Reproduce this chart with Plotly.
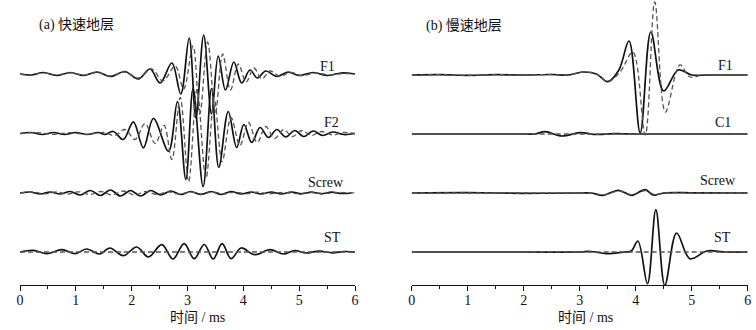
import plotly.graph_objects as go

# ---------------- data (time in ms, amplitude in arbitrary units) ----------------
# Panel (a) fast formation
a_f1_solid_t = [0, 0.2, 0.42, 0.66, 0.9, 1.14, 1.38, 1.62, 1.88, 2.12, 2.33, 2.51, 2.72, 2.88, 3.03, 3.15, 3.29, 3.43,
                3.55, 3.68, 3.83, 3.97, 4.12, 4.25, 4.4, 4.6, 4.8, 5.0, 5.25, 5.5, 5.75, 6.0]
a_f1_solid_v = [0, -1, 1.5, -1.5, 1.5, -1.5, 2, -2.5, 2.5, -5, 5, -9, 11, -20, 36, -44, 39, -40,
                18, -16, 12, -9, 4, -4, 3, -2.5, 2, -1.5, 1.5, -1.5, 1, 0]
a_f1_dash_t = [0, 0.2, 0.42, 0.66, 0.9, 1.14, 1.38, 1.62, 1.88, 2.12, 2.36, 2.56, 2.78, 2.93, 3.1, 3.22, 3.36, 3.5,
               3.63, 3.77, 3.91, 4.05, 4.19, 4.33, 4.48, 4.65, 4.85, 5.05, 5.3, 5.55, 5.8, 6.0]
a_f1_dash_v = [0, -1, 1.2, -1.2, 1.2, -1.2, 1.5, -2, 2, -4, 5, -7, 8, -15, 28, -40, 32, -38,
               20, -16, 10, -8, 6, -5, 3, -2, 1.5, -1.5, 1, -1, 0.5, 0]

a_f2_solid_t = [0, 0.2, 0.4, 0.6, 0.8, 1.0, 1.2, 1.4, 1.52, 1.67, 1.85, 2.03, 2.21, 2.39, 2.66, 2.82, 2.97, 3.1,
                3.28, 3.43, 3.56, 3.73, 3.88, 4.01, 4.15, 4.3, 4.45, 4.6, 4.76, 4.92, 5.08, 5.25, 5.42, 5.6, 5.8, 6.0]
a_f2_solid_v = [0, 1, -1, 1, -1, 1, -1, 1, -1, 2, -6, 11.7, -14.3, 15, -17.7, 32, -46, 45,
                -53, 45, -34, 22, -14, 9, -9, 6, -4, 4, -3.5, 3, -3, 2.5, -2, 1.5, -1, 0]
a_f2_dash_t = [0, 0.3, 0.6, 0.9, 1.2, 1.5, 1.7, 1.88, 2.06, 2.24, 2.42, 2.58, 2.72, 2.87, 3.02, 3.17, 3.33, 3.48,
               3.62, 3.78, 3.94, 4.09, 4.25, 4.4, 4.56, 4.72, 4.88, 5.05, 5.22, 5.4, 5.6, 5.8, 6.0]
a_f2_dash_v = [0, 0.8, -0.8, 0.8, -0.8, 1, -2, 4, -6, 10, -10, 8, -26, 36, -48, 44, -45, 34,
               -28, 16, -12, 11, -9, 7, -5, 4, -3, 3, -2, 2, -1.5, 1, 0]

a_screw_solid_t = [0, 0.18, 0.36, 0.54, 0.72, 0.9, 1.08, 1.26, 1.44, 1.62, 1.8, 1.98, 2.16, 2.34, 2.52, 2.7, 2.88,
                   3.06, 3.24, 3.42, 3.6, 3.78, 3.96, 4.14, 4.32, 4.5, 4.68, 4.86, 5.04, 5.22, 5.4, 5.58, 5.76, 5.94]
a_screw_solid_v = [0, 1, -1, 1, -1, 1.5, -2, 2.5, -2.5, 3, -3, 2.5, -3, 2.5, -2, 2, -1.5,
                   1.5, -1.5, 1.5, -1.5, 1.5, -1, 1, -1, 1, -1, 1, -0.8, 0.8, -0.8, 0.8, -0.5, 0]
a_screw_dash_t = [0, 0.25, 0.45, 0.65, 0.85, 1.05, 1.25, 1.45, 1.65, 1.85, 2.05, 2.25, 2.45, 2.65, 2.85, 3.05,
                  3.25, 3.45, 3.65, 3.85, 4.05, 4.25, 4.45, 4.7, 4.95, 5.2, 5.45, 5.7, 6.0]
a_screw_dash_v = [0, 0.8, -0.8, 1, -1, 1.2, -1.5, 1.5, -2, 2, -2, 1.5, -1.5, 1.2, -1.2, 1,
                  -1, 1, -1, 0.8, -0.8, 0.8, -0.8, 0.6, -0.6, 0.5, -0.5, 0.3, 0]

a_st_solid_t = [0, 0.24, 0.48, 0.75, 0.99, 1.19, 1.43, 1.61, 1.85, 2.09, 2.3, 2.54, 2.74, 2.94, 3.12, 3.3, 3.46,
                3.62, 3.78, 3.96, 4.2, 4.48, 4.72, 4.92, 5.12, 5.35, 5.6, 5.8, 6.0]
a_st_solid_v = [0, 1.7, -1.7, 2.3, -1.7, 3, -2, 4, -3.7, 5, -5, 7.3, -7, 8.3, -6.7, 7.5, -7,
                8.3, -6.7, 4, -2.7, 2.3, -2, 1.5, -1, 0.8, -0.8, 0.5, 0]
a_st_dash_t = [0, 6]
a_st_dash_v = [0, 0]

# Panel (b) slow formation
b_f1_solid_t = [0, 0.5, 1.0, 1.5, 2.0, 2.5, 2.8, 3.06, 3.3, 3.5, 3.7, 3.88, 4.08, 4.27, 4.5, 4.76, 5.0, 5.3, 6.0]
b_f1_solid_v = [0, 0.3, -0.3, 0.3, 0, 0.5, 0, 3, 1, -6.7, 5, 34, -58, 43, -16, 5, 0, 0, 0]
b_f1_dash_t = [0, 0.5, 1.0, 1.5, 2.0, 2.5, 2.8, 3.06, 3.3, 3.5, 3.72, 3.95, 4.17, 4.34, 4.53, 4.79, 4.97, 5.2, 6.0]
b_f1_dash_v = [0, 0.3, -0.3, 0.3, 0, 0.5, 0, 3, 1, -6.7, 3, 23, -60, 73, -37, 10, -2, 0, 0]

b_c1_solid_t = [0, 1.0, 2.0, 2.2, 2.38, 2.68, 3.0, 3.3, 3.6, 4.0, 5.0, 6.0]
b_c1_solid_v = [0, 0, 0, 0, 2.3, -2, 1.3, -0.5, 0.3, 0, 0, 0]
b_c1_dash_t = [0, 6]
b_c1_dash_v = [0, 0]

b_screw_solid_t = [0, 1.0, 2.0, 3.0, 3.2, 3.42, 3.69, 3.93, 4.17, 4.31, 4.5, 5.0, 6.0]
b_screw_solid_v = [0, 0.3, -0.3, 0, 0, -2.3, 2.7, -2.3, 3.3, -2, 0, 0.2, 0]
b_screw_dash_t = [0, 1.0, 2.0, 3.0, 3.2, 3.44, 3.7, 3.95, 4.18, 4.33, 4.5, 5.0, 6.0]
b_screw_dash_v = [0, 0, 0, 0, 0, -1.8, 2, -1.8, 2.5, -1.5, 0, 0, 0]

b_st_solid_t = [0, 1.0, 2.0, 3.0, 3.2, 3.48, 3.8, 3.92, 4.04, 4.21, 4.36, 4.52, 4.73, 4.97, 5.27, 5.6, 6.0]
b_st_solid_v = [0, 0, 0, 0, 0.5, -1.7, 0, 1, 11, -31.7, 42.3, -33.3, 19, -6.7, 1, 0, 0]
b_st_dash_t = [0, 6]
b_st_dash_v = [0, 0]

panel_titles = ["(a) 快速地层", "(b) 慢速地层"]
trace_labels_a = ["F1", "F2", "Screw", "ST"]
trace_labels_b = ["F1", "C1", "Screw", "ST"]
x_tick_vals = [0, 1, 2, 3, 4, 5, 6]
x_title = "时间 / ms"

# ---------------- layout helpers (pixels) ----------------
W, H = 756, 330
PLOT_BOTTOM = 285  # pixel row of the x axis line
offsets_a = [PLOT_BOTTOM - 74, PLOT_BOTTOM - 133.5, PLOT_BOTTOM - 193, PLOT_BOTTOM - 252]
offsets_b = [PLOT_BOTTOM - 75, PLOT_BOTTOM - 134, PLOT_BOTTOM - 193, PLOT_BOTTOM - 252]

panel_a = [
    (a_f1_solid_t, a_f1_solid_v, a_f1_dash_t, a_f1_dash_v),
    (a_f2_solid_t, a_f2_solid_v, a_f2_dash_t, a_f2_dash_v),
    (a_screw_solid_t, a_screw_solid_v, a_screw_dash_t, a_screw_dash_v),
    (a_st_solid_t, a_st_solid_v, a_st_dash_t, a_st_dash_v),
]
panel_b = [
    (b_f1_solid_t, b_f1_solid_v, b_f1_dash_t, b_f1_dash_v),
    (b_c1_solid_t, b_c1_solid_v, b_c1_dash_t, b_c1_dash_v),
    (b_screw_solid_t, b_screw_solid_v, b_screw_dash_t, b_screw_dash_v),
    (b_st_solid_t, b_st_solid_v, b_st_dash_t, b_st_dash_v),
]

fig = go.Figure()


def add_panel(panel, offsets, xaxis):
    for (st, sv, dt, dv), off in zip(panel, offsets):
        fig.add_trace(go.Scatter(
            x=st, y=[v + off for v in sv], xaxis=xaxis, yaxis="y", mode="lines",
            line=dict(color="#111111", width=1.7, shape="spline", smoothing=1.0),
            showlegend=False, hoverinfo="skip"))
    for (st, sv, dt, dv), off in zip(panel, offsets):
        fig.add_trace(go.Scatter(
            x=dt, y=[v + off for v in dv], xaxis=xaxis, yaxis="y", mode="lines",
            line=dict(color="#555555", width=1.3, dash="5px,3px", shape="spline", smoothing=1.0),
            showlegend=False, hoverinfo="skip"))


add_panel(panel_a, offsets_a, "x")
add_panel(panel_b, offsets_b, "x2")

serif = "Liberation Serif, Noto Sans CJK SC, serif"

axis_common = dict(
    range=[0, 6], tickvals=x_tick_vals, showline=True, linecolor="#111111", linewidth=1.2,
    ticks="outside", ticklen=5, tickwidth=1.2, tickcolor="#111111",
    minor=dict(dtick=0.5, ticks="outside", ticklen=3, tickwidth=1, tickcolor="#111111"),
    showgrid=False, zeroline=False, tickfont=dict(family=serif, size=14, color="#111111"),
    ticklabelstandoff=-3,
    fixedrange=True, automargin=False,
)

fig.update_layout(
    width=W, height=H,
    margin=dict(l=0, r=0, t=0, b=H - PLOT_BOTTOM, pad=0, autoexpand=False),
    paper_bgcolor="white", plot_bgcolor="white",
    xaxis=dict(domain=[20 / W, 355 / W], anchor="y", **axis_common),
    xaxis2=dict(domain=[411.7 / W, 747.7 / W], anchor="y", **axis_common),
    yaxis=dict(range=[0, PLOT_BOTTOM], visible=False, fixedrange=True, automargin=False),
)


def px(xp, yp):
    return xp / W, (PLOT_BOTTOM - yp) / PLOT_BOTTOM


annotations = []
for text, (xp, yp) in zip(panel_titles, [(37, 25), (424, 25)]):
    x, y = px(xp, yp)
    annotations.append(dict(text=text, x=x, y=y, xref="paper", yref="paper", xanchor="left",
                            yanchor="middle", showarrow=False,
                            font=dict(family=serif, size=14, color="#111111")))
for text, (xp, yp) in zip(trace_labels_a, [(327.5, 66), (331.5, 122), (326, 182), (332, 237)]):
    x, y = px(xp, yp)
    annotations.append(dict(text=text, x=x, y=y, xref="paper", yref="paper", xanchor="center",
                            yanchor="middle", showarrow=False,
                            font=dict(family=serif, size=14, color="#111111")))
for text, (xp, yp) in zip(trace_labels_b, [(725, 65), (722.5, 122), (717.5, 180), (722.5, 237.5)]):
    x, y = px(xp, yp)
    annotations.append(dict(text=text, x=x, y=y, xref="paper", yref="paper", xanchor="center",
                            yanchor="middle", showarrow=False,
                            font=dict(family=serif, size=14, color="#111111")))
for xp, yp in [(197, 317), (585, 317)]:
    x, y = px(xp, yp)
    annotations.append(dict(text=x_title, x=x, y=y, xref="paper", yref="paper", xanchor="center",
                            yanchor="middle", showarrow=False,
                            font=dict(family=serif, size=14, color="#111111")))
fig.update_layout(annotations=annotations)

fig.write_html("out.html", config={"displayModeBar": False},
               post_script="document.body.style.margin='0px';")
